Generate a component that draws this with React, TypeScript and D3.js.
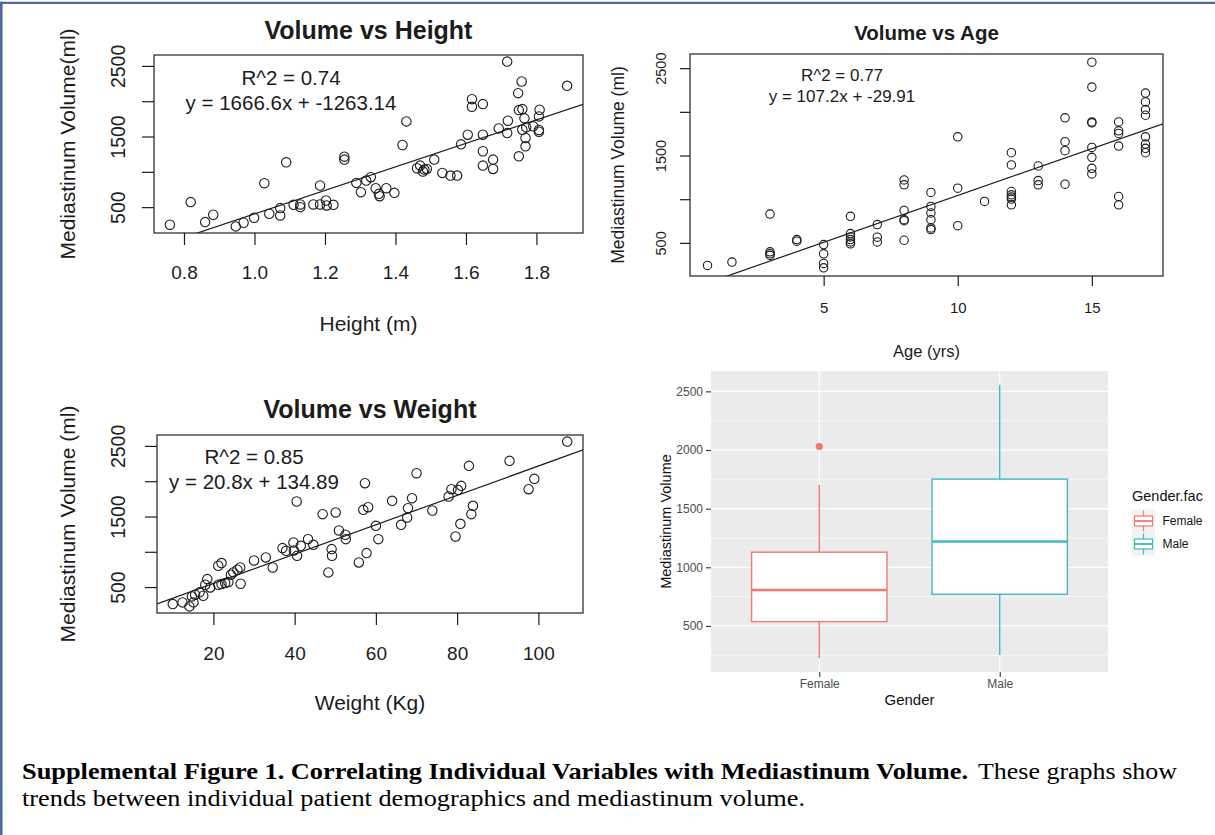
import React, { useEffect, useRef } from 'react';
import * as d3 from 'd3';

const W = 1215,
      H = 835;

const FONT = '"Liberation Sans", Arial, Helvetica, sans-serif';
const SERIF = 'Liberation Serif';
const INK = '#1c1c1c';

// points: [x, mediastinum volume (ml)]
const heightPoints: [number, number][] = [
  [0.76, 251], [0.819, 571], [0.86, 288], [0.883, 392], [0.947, 227], [0.969, 279],
  [0.999, 349], [1.028, 839], [1.042, 406], [1.073, 382], [1.073, 486], [1.09, 1135],
  [1.111, 533], [1.13, 538], [1.13, 500], [1.167, 538], [1.186, 806], [1.186, 538],
  [1.203, 594], [1.205, 524], [1.224, 533], [1.255, 1215], [1.255, 1173], [1.289, 843],
  [1.302, 712], [1.317, 876], [1.33, 924], [1.344, 768], [1.353, 688], [1.355, 655],
  [1.374, 768], [1.397, 702], [1.42, 1380], [1.431, 1714], [1.461, 1051], [1.47, 1088],
  [1.478, 1004], [1.482, 1032], [1.489, 1041], [1.51, 1173], [1.533, 985], [1.556, 947],
  [1.575, 947], [1.586, 1389], [1.605, 1526], [1.617, 2029], [1.617, 1921], [1.648, 1959],
  [1.648, 1526], [1.648, 1291], [1.648, 1088], [1.677, 1173], [1.677, 1041], [1.693, 1615],
  [1.717, 2561], [1.717, 1549], [1.719, 1724], [1.748, 2114], [1.75, 1874], [1.75, 1220],
  [1.758, 2279], [1.76, 1888], [1.76, 1596], [1.766, 1757], [1.769, 1479], [1.769, 1361],
  [1.771, 1629], [1.791, 1644], [1.807, 1785], [1.807, 1592], [1.809, 1879], [1.807, 1568],
  [1.887, 2218],
];

const agePoints: [number, number][] = [
  [0.67, 242], [1.58, 280], [3, 830], [3, 398], [3, 375], [3, 356], [4, 538], [4, 519],
  [5, 481], [5, 375], [5, 265], [5, 215], [6, 804], [6, 606], [6, 568], [6, 538], [6, 511],
  [6, 489], [7, 709], [7, 565], [7, 511], [8, 1221], [8, 1164], [8, 872], [8, 766], [8, 754],
  [8, 530], [9, 1077], [9, 917], [9, 842], [9, 766], [9, 671], [9, 652], [10, 1714],
  [10, 1126], [10, 697], [11, 974], [12, 1532], [12, 1392], [12, 1088], [12, 1050],
  [12, 1024], [12, 1001], [12, 936], [13, 1380], [13, 1213], [13, 1164], [14, 1931],
  [14, 1658], [14, 1555], [14, 1172], [15, 2568], [15, 2284], [15, 1885], [15, 1874],
  [15, 1593], [15, 1479], [15, 1354], [15, 1289], [16, 1885], [16, 1783], [16, 1752],
  [16, 1608], [16, 1031], [16, 936], [17, 2215], [17, 2113], [17, 2026], [17, 1961],
  [17, 1714], [17, 1631], [17, 1582], [17, 1532],
];

const weightPoints: [number, number][] = [
  [10, 259], [12.4, 283], [14.1, 226], [14.7, 368], [15.1, 283], [15.5, 392], [16.6, 425],
  [17.5, 377], [18, 533], [18.5, 613], [19.2, 495], [21.2, 802], [22, 840], [21.2, 533],
  [22, 542], [22.9, 557], [23.7, 571], [24.3, 675], [24.9, 708], [25.9, 745], [26.6, 778],
  [26.7, 547], [30, 877], [32.9, 920], [34.6, 778], [37, 1052], [37.9, 1014], [39.7, 1132],
  [40.5, 1712], [39.8, 1019], [40.6, 943], [41.5, 1085], [43.3, 1179], [44.6, 1099],
  [46.9, 1533], [48.3, 708], [49.1, 1038], [49.2, 943], [50.1, 1557], [50.9, 1302],
  [52.5, 1241], [52.6, 1179], [55.8, 849], [56.9, 1594], [57.3, 1972], [57.7, 981],
  [58.1, 1632], [60, 1368], [60.6, 1179], [64, 1722], [66.2, 1382], [67.7, 1486],
  [67.9, 1618], [68.9, 1759], [70, 2113], [73.9, 1585], [77.9, 1783], [78.6, 1887],
  [79.6, 1217], [80.2, 1877], [80.8, 1396], [81, 1934], [82.9, 2217], [83.5, 1533],
  [83.9, 1651], [92.9, 2288], [97.6, 1887], [99, 2033], [107.1, 2561],
];

const slopes = [1666.6, 107.2, 20.8];
const intercepts = [-1263.14, -29.91, 134.89];
const r2Labels = ['R^2 = 0.74', 'R^2 = 0.77', 'R^2 = 0.85'];
const eqLabels = ['y = 1666.6x + -1263.14', 'y = 107.2x + -29.91', 'y = 20.8x + 134.89'];

const volTicks = [500, 1000, 1500, 2000, 2500];
const volTickLabels = ['500', '', '1500', '', '2500'];
const heightTicks = [0.8, 1.0, 1.2, 1.4, 1.6, 1.8];
const ageTicks = [5, 10, 15];
const weightTicks = [20, 40, 60, 80, 100];

// ggplot box plot
const genders = ['Female', 'Male'];
const whiskerLow = [224, 252];
const quart1 = [537, 770];
const medians = [807, 1220];
const quart3 = [1129, 1752];
const whiskerHigh = [1703, 2557];
const outliers = [[2030], []];
const genderColors = ['#EE7A70', '#3FBAC2'];
const boxTicks = [500, 1000, 1500, 2000, 2500];

interface ScatterLayout {
  box: [number, number, number, number];
  titleX: number; titleY: number; titleSize: number;
  tickLen: number;
  xTickSize: number; xTickBase: number;
  yTickSize: number; yTickBaseX: number;
  xTitleSize: number; xTitleBase: number;
  yTitleSize: number; yTitleBaseX: number;
  noteSize: number; noteX: number; noteBase: [number, number];
  radius: number;
}

// R pads the data range by 4% on each side
const rDomain = (vals: number[]): [number, number] => {
  const [a, b] = d3.extent(vals) as [number, number];
  const pad = (b - a) * 0.04;
  return [a - pad, b + pad];
};

function drawScatter(
  root: d3.Selection<SVGGElement, unknown, null, undefined>,
  id: string,
  pts: [number, number][],
  xTicks: number[],
  fmt: (d: number) => string,
  title: string, xTitle: string, yTitle: string,
  idx: number,
  L: ScatterLayout
) {
  const [l, t, r, b] = L.box;
  const x = d3.scaleLinear().domain(rDomain(pts.map(p => p[0]))).range([l, r]);
  const y = d3.scaleLinear().domain(rDomain(pts.map(p => p[1]))).range([b, t]);
  const g = root.append('g');

  g.append('clipPath').attr('id', id)
    .append('rect').attr('x', l).attr('y', t).attr('width', r - l).attr('height', b - t);

  // regression line (abline)
  const [d0, d1] = x.domain();
  g.append('line')
    .attr('clip-path', `url(#${id})`)
    .attr('x1', x(d0)).attr('y1', y(slopes[idx] * d0 + intercepts[idx]))
    .attr('x2', x(d1)).attr('y2', y(slopes[idx] * d1 + intercepts[idx]))
    .attr('stroke', INK).attr('stroke-width', 1.2);

  g.selectAll('circle.pt').data(pts).join('circle')
    .attr('class', 'pt')
    .attr('cx', d => x(d[0])).attr('cy', d => y(d[1]))
    .attr('r', L.radius)
    .attr('fill', 'none').attr('stroke', INK).attr('stroke-width', 1.1);

  g.append('rect')
    .attr('x', l).attr('y', t).attr('width', r - l).attr('height', b - t)
    .attr('fill', 'none').attr('stroke', '#333').attr('stroke-width', 1.3);

  const xa = g.append('g')
    .attr('transform', `translate(0,${b})`)
    .call(d3.axisBottom(x).tickValues(xTicks).tickSize(L.tickLen).tickFormat(d => fmt(+d)));
  xa.select('.domain').remove();
  xa.attr('font-family', FONT).attr('font-size', L.xTickSize).attr('color', INK);
  xa.selectAll('line').attr('stroke-width', 1.2);
  xa.selectAll('text').attr('dy', null).attr('y', L.xTickBase - b);

  const ya = g.append('g')
    .attr('transform', `translate(${l},0)`)
    .call(d3.axisLeft(y).tickValues(volTicks).tickSize(L.tickLen)
      .tickFormat((d, i) => volTickLabels[i]));
  ya.select('.domain').remove();
  ya.attr('font-family', FONT).attr('font-size', L.yTickSize).attr('color', INK);
  ya.selectAll('line').attr('stroke-width', 1.2);
  ya.selectAll('text')
    .attr('dy', null).attr('x', 0).attr('y', -(l - L.yTickBaseX))
    .attr('text-anchor', 'middle').attr('transform', 'rotate(-90)');

  const txt = (s: string, tx: number, ty: number, size: number, weight = 'normal') =>
    g.append('text').text(s)
      .attr('x', tx).attr('y', ty)
      .attr('text-anchor', 'middle')
      .attr('font-family', FONT).attr('font-size', size).attr('font-weight', weight)
      .attr('fill', INK);

  txt(title, L.titleX, L.titleY, L.titleSize, 'bold');
  txt(xTitle, (l + r) / 2, L.xTitleBase, L.xTitleSize);
  txt(yTitle, 0, 0, L.yTitleSize)
    .attr('transform', `translate(${L.yTitleBaseX},${(t + b) / 2}) rotate(-90)`);
  txt(r2Labels[idx], L.noteX, L.noteBase[0], L.noteSize);
  txt(eqLabels[idx], L.noteX, L.noteBase[1], L.noteSize);
}

function drawBoxplot(root: d3.Selection<SVGGElement, unknown, null, undefined>) {
  const [l, t, r, b] = [711, 371, 1108, 672];
  const g = root.append('g');
  const x = d3.scalePoint<string>().domain(genders).range([l, r]).padding(0.6);
  const all = [...whiskerLow, ...whiskerHigh, ...outliers.flat()];
  const [lo, hi] = d3.extent(all) as [number, number];
  const pad = (hi - lo) * 0.05;
  const y = d3.scaleLinear().domain([lo - pad, hi + pad]).range([b, t]);
  const bw = x.step() * 0.75;

  g.append('rect').attr('x', l).attr('y', t).attr('width', r - l).attr('height', b - t)
    .attr('fill', '#EBEBEB');

  const minor = boxTicks.map(v => v - 250).filter(v => v > y.domain()[0]);
  g.selectAll('line.minor').data(minor).join('line')
    .attr('x1', l).attr('x2', r).attr('y1', d => y(d)).attr('y2', d => y(d))
    .attr('stroke', '#fff').attr('stroke-width', 0.6);
  g.selectAll('line.major').data(boxTicks).join('line')
    .attr('x1', l).attr('x2', r).attr('y1', d => y(d)).attr('y2', d => y(d))
    .attr('stroke', '#fff').attr('stroke-width', 1.2);
  g.selectAll('line.vmajor').data(genders).join('line')
    .attr('x1', d => x(d)!).attr('x2', d => x(d)!).attr('y1', t).attr('y2', b)
    .attr('stroke', '#fff').attr('stroke-width', 1.2);

  genders.forEach((gname, i) => {
    const cx = x(gname)!;
    const c = genderColors[i];
    const bg = g.append('g').attr('stroke', c).attr('stroke-width', 1.4);
    bg.append('line').attr('x1', cx).attr('x2', cx).attr('y1', y(whiskerLow[i])).attr('y2', y(quart1[i]));
    bg.append('line').attr('x1', cx).attr('x2', cx).attr('y1', y(quart3[i])).attr('y2', y(whiskerHigh[i]));
    bg.append('rect')
      .attr('x', cx - bw / 2).attr('width', bw)
      .attr('y', y(quart3[i])).attr('height', y(quart1[i]) - y(quart3[i]))
      .attr('fill', '#fff');
    bg.append('line').attr('x1', cx - bw / 2).attr('x2', cx + bw / 2)
      .attr('y1', y(medians[i])).attr('y2', y(medians[i])).attr('stroke-width', 2.6);
    g.selectAll(`circle.out${i}`).data(outliers[i]).join('circle')
      .attr('cx', cx).attr('cy', d => y(d)).attr('r', 3.6).attr('fill', c);
  });

  const ya = g.append('g').attr('transform', `translate(${l},0)`)
    .call(d3.axisLeft(y).tickValues(boxTicks).tickSize(5).tickPadding(3).tickFormat(d => String(d)));
  ya.select('.domain').remove();
  ya.attr('font-family', FONT).attr('font-size', 12);
  ya.selectAll('line').attr('stroke', '#333').attr('stroke-width', 1.1);
  ya.selectAll('text').attr('fill', '#4D4D4D');

  const xa = g.append('g').attr('transform', `translate(0,${b})`)
    .call(d3.axisBottom(x).tickSize(5).tickPadding(3));
  xa.select('.domain').remove();
  xa.attr('font-family', FONT).attr('font-size', 12);
  xa.selectAll('line').attr('stroke', '#333').attr('stroke-width', 1.1);
  xa.selectAll('text').attr('fill', '#4D4D4D').attr('dy', null).attr('y', 688 - b);

  g.append('text').text('Gender')
    .attr('x', (l + r) / 2).attr('y', 705).attr('text-anchor', 'middle')
    .attr('font-family', FONT).attr('font-size', 15).attr('fill', '#111');
  g.append('text').text('Mediastinum Volume')
    .attr('transform', `translate(671,${(t + b) / 2}) rotate(-90)`).attr('text-anchor', 'middle')
    .attr('font-family', FONT).attr('font-size', 14.5).attr('fill', '#111');

  // legend
  const lg = g.append('g');
  lg.append('text').text('Gender.fac').attr('x', 1132).attr('y', 501)
    .attr('font-family', FONT).attr('font-size', 14.5).attr('fill', '#111');
  genders.forEach((gname, i) => {
    const ky = 509.5 + i * 23;
    const kx = 1132;
    lg.append('rect').attr('x', kx).attr('y', ky).attr('width', 23).attr('height', 23)
      .attr('fill', '#F2F2F2');
    const k = lg.append('g').attr('stroke', genderColors[i]).attr('stroke-width', 1.2);
    k.append('line').attr('x1', kx + 11.5).attr('x2', kx + 11.5).attr('y1', ky + 1).attr('y2', ky + 22);
    k.append('rect').attr('x', kx + 2.5).attr('y', ky + 6.5).attr('width', 18).attr('height', 10)
      .attr('fill', '#fff');
    k.append('line').attr('x1', kx + 2.5).attr('x2', kx + 20.5).attr('y1', ky + 11.5).attr('y2', ky + 11.5)
      .attr('stroke-width', 1.8);
    lg.append('text').text(gname).attr('x', 1162.5).attr('y', ky + 15.5)
      .attr('font-family', FONT).attr('font-size', 12).attr('fill', '#111');
  });
}

const App = () => {
  const ref = useRef<SVGSVGElement>(null);

  useEffect(() => {
    const svg = d3.select(ref.current);
    svg.selectAll('*').remove();
    const root = svg.append('g');

    root.append('rect').attr('width', W).attr('height', H).attr('fill', '#fff');

    const big = {
      tickLen: 12, xTickSize: 19, yTickSize: 19.5, xTitleSize: 21, yTitleSize: 21,
      titleSize: 25, noteSize: 20.5, radius: 4.7, yTickBaseX: 125, yTitleBaseX: 75,
    };

    drawScatter(root, 'clipH', heightPoints, heightTicks, d => d.toFixed(1),
      'Volume vs Height', 'Height (m)', 'Mediastinum Volume(ml)', 0, {
        ...big, box: [154, 55, 583, 233], titleX: 368.5, titleY: 39,
        xTickBase: 279, xTitleBase: 331, noteX: 291, noteBase: [85, 110],
      });

    drawScatter(root, 'clipA', agePoints, ageTicks, d => String(d),
      'Volume vs Age', 'Age (yrs)', 'Mediastinum Volume (ml)', 1, {
        box: [690, 54, 1163, 276], titleX: 926.5, titleY: 40, titleSize: 20.5,
        tickLen: 10, xTickSize: 15, xTickBase: 313, yTickSize: 14.5, yTickBaseX: 666,
        xTitleSize: 16.5, xTitleBase: 357, yTitleSize: 17.5, yTitleBaseX: 624,
        noteSize: 17, noteX: 842, noteBase: [81, 102], radius: 4.2,
      });

    drawScatter(root, 'clipW', weightPoints, weightTicks, d => String(d),
      'Volume vs Weight', 'Weight (Kg)', 'Mediastinum Volume (ml)', 2, {
        ...big, box: [157, 435, 583, 613], titleX: 370, titleY: 418,
        xTickBase: 660, xTitleBase: 710, noteX: 254, noteBase: [464, 489],
      });

    drawBoxplot(root);

    // caption
    const cap = root.append('g').attr('font-family', SERIF).attr('font-size', 23.5).attr('fill', '#000');
    cap.append('text').text('Supplemental Figure 1. Correlating Individual Variables with Mediastinum Volume.')
      .attr('x', 22).attr('y', 779).attr('font-weight', 'bold')
      .attr('textLength', 946).attr('lengthAdjust', 'spacingAndGlyphs');
    cap.append('text').text('These graphs show')
      .attr('x', 978).attr('y', 779)
      .attr('textLength', 199).attr('lengthAdjust', 'spacingAndGlyphs');
    cap.append('text').text('trends between individual patient demographics and mediastinum volume.')
      .attr('x', 22).attr('y', 806)
      .attr('textLength', 783).attr('lengthAdjust', 'spacingAndGlyphs');

    // frame edges
    root.append('line').attr('x1', 0).attr('x2', W).attr('y1', 2.8).attr('y2', 2.8)
      .attr('stroke', '#4A6AA5').attr('stroke-width', 2.3);
    root.append('line').attr('x1', 1.3).attr('x2', 1.3).attr('y1', 1.7).attr('y2', H)
      .attr('stroke', '#4A6AA5').attr('stroke-width', 2.6);
  }, []);

  return (
    <svg ref={ref} width={W} height={H}
      style={{ position: 'absolute', left: 0, top: 0, display: 'block' }} />
  );
};

export default App;
